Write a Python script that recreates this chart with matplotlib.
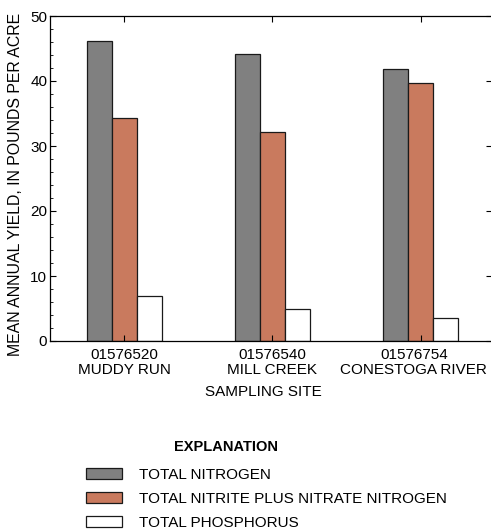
# coding: utf8
import matplotlib
matplotlib.use('Agg')
import matplotlib.pyplot as plt
import numpy as np
from matplotlib.patches import Patch
from matplotlib.ticker import MultipleLocator
from matplotlib.transforms import ScaledTranslation

site_ids = ['01576520', '01576540', '01576754']
site_names = ['MUDDY RUN', 'MILL CREEK', 'CONESTOGA RIVER']
total_nitrogen = [46.1, 44.2, 41.9]
nitrite_nitrate = [34.3, 32.1, 39.7]
total_phosphorus = [7.0, 5.0, 3.5]
series_names = ['TOTAL NITROGEN', 'TOTAL NITRITE PLUS NITRATE NITROGEN', 'TOTAL PHOSPHORUS']
colors = ['#808080', '#c97a5e', '#ffffff']


def show():
    plt.rcParams['font.family'] = ['Liberation Sans', 'DejaVu Sans']
    plt.rcParams['font.size'] = 11

    fig = plt.figure(figsize=(4.91, 5.29), dpi=100)
    ax = fig.add_axes([50 / 491, 188 / 529, 442 / 491, 325 / 529])

    x = np.arange(len(site_ids))
    w = 0.168
    series = [total_nitrogen, nitrite_nitrate, total_phosphorus]
    for i, vals in enumerate(series):
        ax.bar(x + (i - 1) * w, vals, w, color=colors[i], edgecolor='#1a1a1a',
               linewidth=0.9, label=series_names[i])

    ax.set_xlim(-0.5, 2.48)
    ax.set_ylim(0, 50)
    ax.set_xticks(x)
    ax.set_xticklabels([a + '\n' + b for a, b in zip(site_ids, site_names)], linespacing=1.1)
    ax.yaxis.set_major_locator(MultipleLocator(10))
    ax.yaxis.set_minor_locator(MultipleLocator(2))
    ax.tick_params(axis='x', direction='in', top=True, length=4, pad=5)
    ax.tick_params(axis='y', which='major', direction='in', right=True, length=4, pad=2)
    ax.tick_params(axis='y', which='minor', direction='in', length=2)
    ax.tick_params(axis='y', which='minor', right=False)
    for s in ax.spines.values():
        s.set_linewidth(0.9)

    # the last label sits a little left of its tick so it fits
    last = ax.get_xticklabels()[-1]
    last.set_transform(last.get_transform() + ScaledTranslation(-0.07, 0, fig.dpi_scale_trans))

    ax.set_xlabel('SAMPLING SITE')
    ax.xaxis.label.set_va('center')
    ax.xaxis.set_label_coords((263 - 50) / 442, -(392 - 341) / 325)
    ax.set_ylabel('MEAN ANNUAL YIELD, IN POUNDS PER ACRE', fontsize=11.4)
    ax.yaxis.label.set_va('center')
    ax.yaxis.set_label_coords((16 - 50) / 442, (341 - 184) / 325)

    fig.text(226 / 491, 1 - 447 / 529, 'EXPLANATION', ha='center', va='center',
             fontweight='bold', fontsize=10.5)
    handles = [Patch(facecolor=colors[i], edgecolor='#1a1a1a', linewidth=0.9, label=series_names[i])
               for i in range(3)]
    fig.legend(handles=handles, loc='upper left', bbox_to_anchor=(86 / 491, 1 - 468 / 529),
               frameon=False, borderpad=0, borderaxespad=0, handlelength=2.36,
               handleheight=0.78, handletextpad=1.1, labelspacing=0.65, fontsize=11)

    fig.savefig('out.png', dpi=100)


if __name__ == "__main__":
    show()
